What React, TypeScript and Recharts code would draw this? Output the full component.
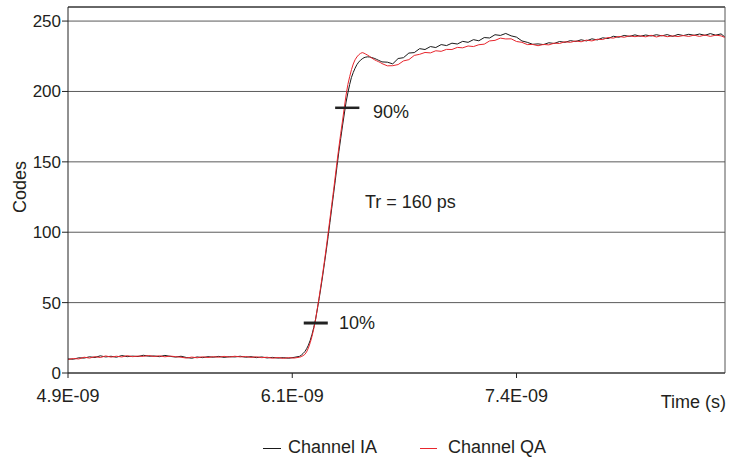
import React from 'react';
import {
  LineChart,
  Line,
  XAxis,
  YAxis,
  CartesianGrid,
  Legend,
  ReferenceLine,
  ReferenceDot,
} from 'recharts';

// Time axis in nanoseconds
const timeNs = [
  4.9, 4.93, 4.96, 4.99, 5.02, 5.05, 5.08, 5.11, 5.14, 5.17, 5.2, 5.23, 5.26, 5.29, 5.32, 5.35, 5.38, 5.41, 5.44, 5.47,
  5.5, 5.53, 5.56, 5.59, 5.62, 5.65, 5.68, 5.71, 5.74, 5.77, 5.8, 5.83, 5.86, 5.89, 5.92, 5.95, 5.98, 6.01, 6.04, 6.07,
  6.1, 6.13, 6.16, 6.19,
  6.2, 6.21, 6.22, 6.23, 6.24, 6.25, 6.26, 6.27, 6.28, 6.29, 6.3, 6.31, 6.32, 6.33, 6.34, 6.35, 6.36, 6.37, 6.38, 6.39,
  6.4, 6.41, 6.42, 6.43, 6.44, 6.45, 6.46, 6.47, 6.48, 6.49, 6.5, 6.51, 6.52, 6.53, 6.54, 6.55, 6.56, 6.57, 6.58, 6.59,
  6.6, 6.61, 6.62, 6.63, 6.64, 6.65,
  6.68, 6.71, 6.74, 6.77, 6.8, 6.83, 6.86, 6.89, 6.92, 6.95, 6.98, 7.01, 7.04, 7.07, 7.1, 7.13, 7.16, 7.19, 7.22, 7.25,
  7.28, 7.31, 7.34, 7.37, 7.4, 7.43, 7.46, 7.49, 7.52, 7.55, 7.58, 7.61, 7.64, 7.67, 7.7, 7.73, 7.76, 7.79, 7.82, 7.85,
  7.88, 7.91, 7.94, 7.97, 8.0, 8.03, 8.06, 8.09, 8.12, 8.15, 8.18, 8.21, 8.24, 8.27, 8.3, 8.33, 8.36, 8.39, 8.42, 8.45,
  8.48, 8.51, 8.54, 8.56,
];

const channelIA = [
  10.0, 9.8, 10.8, 10.6, 11.5, 11.0, 12.2, 11.4, 11.9, 11.2, 12.4, 11.6, 12.0, 11.7, 12.6, 11.9, 12.1, 11.6, 12.5, 11.8,
  11.3, 11.9, 11.0, 10.5, 11.4, 10.9, 11.6, 11.2, 11.8, 11.1, 11.6, 11.4, 11.9, 11.2, 11.6, 10.9, 11.4, 10.7, 11.1, 10.6,
  10.9, 10.5, 11.1, 11.8,
  12.6, 13.8, 15.2, 17.2, 19.8, 23.2, 27.4, 32.4, 38.2, 45.5, 53.0, 61.0, 69.5, 78.5, 87.5, 97.0, 107.0, 117.0, 127.0, 137.0,
  147.5, 157.5, 166.5, 175.5, 184.0, 192.5, 199.0, 205.0, 210.0, 213.5, 216.5, 219.0, 220.8, 222.2, 223.2, 224.0, 224.4, 224.6, 224.5, 224.2,
  223.8, 223.4, 222.8, 222.2, 221.6, 221.0,
  220.8, 219.6, 223.4, 224.0, 227.3, 227.6, 230.4, 229.8, 231.9, 231.2, 233.3, 232.6, 234.3, 233.7, 235.6, 234.9, 236.8, 236.0, 238.3, 238.0,
  240.3, 239.8, 241.2, 239.5, 238.6, 235.9, 234.9, 233.5, 233.8, 233.3, 234.6, 234.1, 235.5, 234.9, 236.1, 235.5, 236.7, 235.9, 237.4, 236.6,
  238.1, 237.6, 239.2, 238.5, 239.8, 239.1, 240.2, 239.2, 240.1, 239.4, 240.3, 239.5, 240.4, 239.1, 240.5, 239.7, 240.6, 239.9, 240.8, 239.9,
  241.1, 240.0, 240.9, 238.8,
];

const channelQA = [
  9.6, 10.3, 10.0, 11.2, 10.6, 11.6, 11.0, 12.1, 11.3, 11.9, 11.4, 12.3, 11.6, 12.0, 11.8, 12.4, 11.7, 12.2, 11.5, 12.0,
  11.6, 11.2, 10.6, 11.3, 10.8, 11.5, 11.0, 11.6, 11.2, 11.8, 11.3, 11.9, 11.4, 11.7, 11.1, 11.5, 10.9, 11.2, 10.5, 11.0,
  10.4, 10.9, 10.6, 11.2,
  11.6, 12.3, 13.2, 15.0, 17.8, 21.5, 26.0, 31.5, 38.0, 46.0, 54.0, 62.5, 71.0, 80.0, 89.5, 99.5, 109.5, 119.5, 129.5, 140.0,
  150.5, 160.5, 170.0, 179.0, 188.5, 197.5, 205.0, 210.5, 215.5, 219.5, 222.5, 224.5, 226.0, 227.0, 227.6, 227.2, 226.5, 225.8, 225.0, 224.0,
  223.2, 222.4, 221.8, 221.2, 220.6, 219.8,
  218.2, 218.3, 219.1, 221.7, 222.6, 225.6, 226.4, 227.7, 227.4, 228.9, 228.5, 229.9, 229.8, 231.3, 231.0, 232.3, 231.9, 233.2, 233.6, 235.9,
  236.3, 237.9, 237.3, 237.4, 235.5, 234.9, 233.3, 233.4, 232.5, 233.4, 233.1, 234.3, 234.1, 235.3, 234.9, 235.9, 235.3, 236.5, 235.9, 237.1,
  236.9, 238.3, 237.9, 239.1, 238.5, 239.5, 238.9, 239.5, 238.8, 239.9, 238.7, 239.8, 238.9, 239.5, 239.0, 239.7, 239.1, 240.0, 239.1, 240.1,
  239.1, 240.0, 239.5, 238.4,
];

const xTickValues = [4.9, 6.15, 7.4];
const xTickLabels = ['4.9E-09', '6.1E-09', '7.4E-09'];
const yTickValues = [0, 50, 100, 150, 200, 250];

const marker10 = { from: 6.214, to: 6.348, level: 35.5, label: '10%', labelX: 6.41, labelY: 35.5 };
const marker90 = { from: 6.389, to: 6.524, level: 188.4, label: '90%', labelX: 6.6, labelY: 185.8 };
const riseNote = { text: 'Tr = 160 ps', x: 6.555, y: 122 };

const data = timeNs.map((t, i) => ({ t, ia: channelIA[i], qa: channelQA[i] }));

const FONT = '"Liberation Sans", Arial, Helvetica, sans-serif';
const TEXT = '#231f20';

const textLabel = (value: string) => (props: any) => {
  const vb = props.viewBox || {};
  return (
    <text x={vb.x} y={vb.y} dy="0.355em" textAnchor="start" fill={TEXT} fontSize={18} fontFamily={FONT}>
      {value}
    </text>
  );
};

const YLabel = (props: any) => {
  const vb = props.viewBox || {};
  const cy = vb.y + vb.height / 2 - 3;
  return (
    <text
      x={20}
      y={cy}
      dy="0.355em"
      transform={`rotate(-90 20 ${cy})`}
      textAnchor="middle"
      fill={TEXT}
      fontSize={18}
      fontFamily={FONT}
    >
      Codes
    </text>
  );
};

const XLabel = (props: any) => {
  const vb = props.viewBox || {};
  return (
    <text x={vb.x + vb.width + 1} y={vb.y + 35} textAnchor="end" fill={TEXT} fontSize={18} fontFamily={FONT}>
      Time (s)
    </text>
  );
};

const LegendContent = (props: any) => {
  const payload = props.payload || [];
  const gaps = [7, 11];
  const widths = [18, 17];
  return (
    <div
      style={{
        display: 'flex',
        alignItems: 'center',
        height: 26,
        paddingLeft: 263,
        fontFamily: FONT,
        fontSize: 18,
        color: TEXT,
      }}
    >
      {payload.map((p: any, i: number) => (
        <div key={p.value} style={{ display: 'flex', alignItems: 'center', marginRight: i === 0 ? 43 : 0 }}>
          <div style={{ width: widths[i] ?? 18, height: 1, background: p.color, marginRight: gaps[i] ?? 8, marginTop: 2 }} />
          <span style={{ whiteSpace: 'nowrap' }}>{p.value}</span>
        </div>
      ))}
    </div>
  );
};

export default function App() {
  return (
    <div style={{ position: 'absolute', left: 0, top: 0 }}>
      <LineChart width={729} height={462} data={data} margin={{ top: 7, right: 4, left: 0, bottom: 2 }}>
        <CartesianGrid vertical={false} stroke="#5a5a5a" strokeWidth={1} />
        <XAxis
          dataKey="t"
          type="number"
          domain={[4.9, 8.562]}
          allowDataOverflow
          ticks={xTickValues}
          tickFormatter={(v: number) => xTickLabels[xTickValues.indexOf(v)] ?? String(v)}
          height={61}
          tickSize={5}
          tickMargin={11}
          axisLine={{ stroke: '#222' }}
          tickLine={{ stroke: '#222' }}
          tick={{ fill: TEXT, fontSize: 18, fontFamily: FONT }}
          label={<XLabel />}
        />
        <YAxis
          type="number"
          domain={[0, 260]}
          ticks={yTickValues}
          width={68}
          tickSize={6}
          tickMargin={1}
          axisLine={{ stroke: '#222' }}
          tickLine={{ stroke: '#222' }}
          tick={{ fill: TEXT, fontSize: 17, fontFamily: FONT }}
          label={<YLabel />}
        />
        <ReferenceLine y={260} stroke="#222" strokeWidth={1} />
        <ReferenceLine x={8.562} stroke="#555" strokeWidth={1} />
        <Line
          name="Channel IA"
          dataKey="ia"
          type="linear"
          stroke="#1a1a1a"
          strokeWidth={1}
          dot={false}
          isAnimationActive={false}
        />
        <Line
          name="Channel QA"
          dataKey="qa"
          type="linear"
          stroke="#e8262d"
          strokeWidth={1}
          dot={false}
          isAnimationActive={false}
        />
        <ReferenceLine
          segment={[
            { x: marker10.from, y: marker10.level },
            { x: marker10.to, y: marker10.level },
          ]}
          stroke="#222"
          strokeWidth={3}
        />
        <ReferenceLine
          segment={[
            { x: marker90.from, y: marker90.level },
            { x: marker90.to, y: marker90.level },
          ]}
          stroke="#222"
          strokeWidth={2.5}
        />
        <ReferenceDot x={marker10.labelX} y={marker10.labelY} r={0} stroke="none" fill="none" label={textLabel(marker10.label)} />
        <ReferenceDot x={marker90.labelX} y={marker90.labelY} r={0} stroke="none" fill="none" label={textLabel(marker90.label)} />
        <ReferenceDot x={riseNote.x} y={riseNote.y} r={0} stroke="none" fill="none" label={textLabel(riseNote.text)} />
        <Legend
          verticalAlign="bottom"
          content={<LegendContent />}
          wrapperStyle={{ left: 0, width: 729 }}
        />
      </LineChart>
    </div>
  );
}
